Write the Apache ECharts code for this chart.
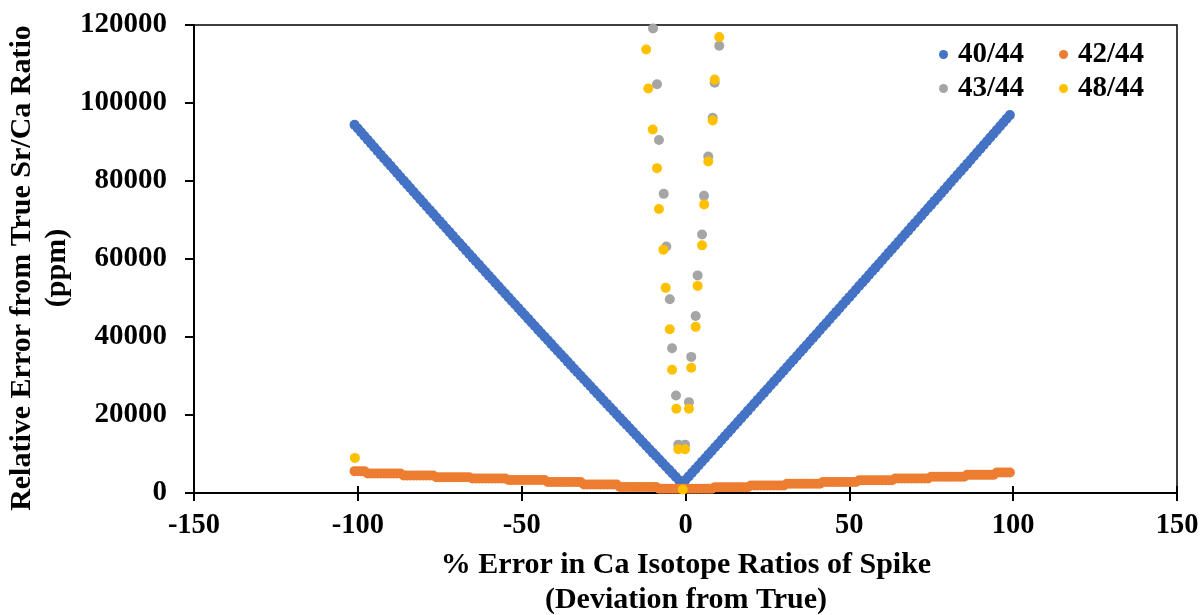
<!DOCTYPE html>
<html>
<head>
<meta charset="utf-8">
<script src="https://cdn.jsdelivr.net/npm/echarts@6/dist/echarts.min.js"></script>
<style>
html,body{margin:0;padding:0;background:#fff;}
#chart{width:1204px;height:615px;}
</style>
</head>
<body>
<div id="chart"></div>
<script>
// Dense series: x runs from -101 to 99 in steps of 1 (% error)
var xStart = -101, xEnd = 99;

// 40/44 values, one per x from -101 to 99
var ratio40 = [
94400,93440,92480,91520,90570,89610,88650,87700,86750,85790,84840,83890,82940,81990,81040,80090,79140,78200,77250,76300,
75360,74420,73470,72530,71590,70650,69710,68770,67830,66900,65960,65020,64090,63160,62220,61290,60360,59430,58500,57570,
56640,55710,54790,53860,52930,52010,51090,50160,49240,48320,47400,46480,45560,44640,43730,42810,41890,40980,40070,39150,
38240,37330,36420,35510,34600,33690,32780,31880,30970,30060,29160,28260,27350,26450,25550,24650,23750,22850,21950,21060,
20160,19260,18370,17480,16580,15690,14800,13910,13020,12130,11240,10350,9470,8580,7690,6810,5930,5040,4160,3280,2400,
3330,4260,5190,6120,7050,7990,8920,9850,10780,11720,12650,13580,14520,15450,16380,17320,18250,19190,20120,21060,
22000,22930,23870,24810,25740,26680,27620,28560,29500,30440,31370,32310,33250,34190,35130,36070,37020,37960,38900,39840,
40780,41720,42670,43610,44550,45500,46440,47390,48330,49280,50220,51170,52110,53060,54000,54950,55900,56840,57790,58740,
59690,60640,61590,62530,63480,64430,65380,66330,67280,68240,69190,70140,71090,72040,72990,73950,74900,75850,76810,77760,
78710,79670,80620,81580,82530,83490,84450,85400,86360,87320,88270,89230,90190,91150,92100,93060,94020,94980,95940,96900];

// 42/44 values, one per x from -101 to 99 (stepped as in the picture)
var ratio42 = [
5600,5600,5600,5600,
5000,5000,5000,5000,5000,5000,5000,5000,5000,5000,5000,
4500,4500,4500,4500,4500,4500,4500,4500,4500,4500,
4050,4050,4050,4050,4050,4050,4050,4050,4050,4050,4050,
3700,3700,3700,3700,3700,3700,3700,3700,3700,3700,3700,
3350,3350,3350,3350,3350,3350,3350,3350,3350,3350,3350,3350,
2800,2800,2800,2800,2800,2800,2800,2800,2800,2800,2800,
2200,2200,2200,2200,2200,2200,2200,2200,2200,2200,2200,
1550,1550,1550,1550,1550,1550,1550,1550,1550,1550,1550,1550,
1100,1100,1100,1100,1100,1100,1100,1100,
1100,1100,1100,1100,1100,1100,1100,1100,1100,
1500,1500,1500,1500,1500,1500,1500,1500,1500,1500,1500,
1950,1950,1950,1950,1950,1950,1950,1950,1950,1950,1950,
2400,2400,2400,2400,2400,2400,2400,2400,2400,2400,2400,
2850,2850,2850,2850,2850,2850,2850,2850,2850,2850,2850,
3250,3250,3250,3250,3250,3250,3250,3250,3250,3250,3250,
3700,3700,3700,3700,3700,3700,3700,3700,3700,3700,3700,
4150,4150,4150,4150,4150,4150,4150,4150,4150,4150,4150,
4650,4650,4650,4650,4650,4650,4650,4650,4650,
5250,5250,5250,5250,5250];

// Sparse series near zero
var x43 = [-9.9,-8.7,-8.1,-6.65,-5.85,-4.8,-4.1,-2.9,-2.2,-0.15,1.05,1.75,3.1,3.7,5.05,5.65,6.95,8.3,8.9,10.3];
var ratio43 = [119100,104800,90500,76700,63200,49700,37100,25000,12400,12400,23300,34900,45400,55800,66300,76200,86300,96200,105200,114700];

var x48 = [-100.9,-12.0,-11.35,-10.0,-8.7,-8.1,-6.75,-6.05,-4.8,-4.1,-2.8,-2.2,-0.85,-0.15,1.05,1.75,3.1,3.7,5.05,5.7,6.95,8.3,8.9,10.3];
var ratio48 = [9000,113700,103700,93200,83300,72800,62400,52600,42000,31600,21600,11200,900,11200,21600,32100,42600,53100,63500,74000,85000,95500,106000,116900];

var seriesNames = ['40/44','42/44','43/44','48/44'];
var seriesColors = ['#4472C4','#ED7D31','#A5A5A5','#FFC000'];
var xTicks = [-150,-100,-50,0,50,100,150];
var yTicks = [0,20000,40000,60000,80000,100000,120000];

function denseData(ys){ var out=[]; for(var i=0;i<ys.length;i++){ out.push([xStart+i, ys[i]]); } return out; }
function zip(xs, ys){ var out=[]; for(var i=0;i<xs.length;i++){ out.push([xs[i], ys[i]]); } return out; }

var FONT = '"Liberation Serif","Times New Roman",serif';
var chart = echarts.init(document.getElementById('chart'), null, {renderer:'canvas'});

var legendText = {fontFamily:FONT, fontWeight:'bold', fontSize:29, color:'#000', padding:[0,0,0,5]};

var option = {
  backgroundColor:'#fff',
  animation:false,
  grid:{left:194, right:27, top:25, bottom:122, show:true, borderColor:'#000', borderWidth:1.5, backgroundColor:'transparent'},
  legend:[
    {data:[seriesNames[0],seriesNames[1]], left:934, top:35, icon:'circle', itemWidth:9, itemHeight:9, itemGap:35, textStyle:legendText},
    {data:[seriesNames[2],seriesNames[3]], left:934, top:69, icon:'circle', itemWidth:9, itemHeight:9, itemGap:35, textStyle:legendText}
  ],
  xAxis:[
    {type:'value', min:xTicks[0], max:xTicks[xTicks.length-1], interval:50,
     axisLine:{show:true, onZero:false, lineStyle:{color:'#000', width:2}},
     axisTick:{show:true, inside:false, length:8, lineStyle:{color:'#000', width:2}},
     axisLabel:{fontFamily:FONT, fontWeight:'bold', fontSize:28.5, color:'#000', margin:18},
     splitLine:{show:false}},
    {type:'value', position:'bottom', min:xTicks[0], max:xTicks[xTicks.length-1], interval:50,
     axisLine:{show:false}, axisTick:{show:true, inside:true, length:7, lineStyle:{color:'#000', width:2}},
     axisLabel:{show:false}, splitLine:{show:false}}
  ],
  yAxis:{type:'value', min:yTicks[0], max:yTicks[yTicks.length-1], interval:20000,
     axisLine:{show:true, onZero:false, lineStyle:{color:'#000', width:2}},
     axisTick:{show:true, inside:false, length:9, lineStyle:{color:'#000', width:2}},
     axisLabel:{fontFamily:FONT, fontWeight:'bold', fontSize:29, color:'#000', margin:27, formatter:function(v){return String(v);}},
     splitLine:{show:false}},
  graphic:[
    {type:'text', x:686, y:583, style:{text:'% Error in Ca Isotope Ratios of Spike\n(Deviation from True)', font:'bold 30px ' + FONT, fill:'#000', align:'center', verticalAlign:'middle', lineHeight:35}},
    {type:'text', x:40, y:268, rotation:Math.PI/2, style:{text:'Relative Error from True Sr/Ca Ratio\n(ppm)', font:'bold 30px ' + FONT, fill:'#000', align:'center', verticalAlign:'middle', lineHeight:35}}
  ],
  series:[
    {name:seriesNames[0], type:'scatter', data:denseData(ratio40), symbolSize:10, itemStyle:{color:seriesColors[0], opacity:1}, z:2},
    {name:seriesNames[1], type:'scatter', data:denseData(ratio42), symbolSize:10, itemStyle:{color:seriesColors[1], opacity:1}, z:3},
    {name:seriesNames[2], type:'scatter', data:zip(x43, ratio43), symbolSize:10, itemStyle:{color:seriesColors[2], opacity:1}, z:4},
    {name:seriesNames[3], type:'scatter', data:zip(x48, ratio48), symbolSize:10, itemStyle:{color:seriesColors[3], opacity:1}, z:5}
  ]
};
chart.setOption(option);
</script>
</body>
</html>
